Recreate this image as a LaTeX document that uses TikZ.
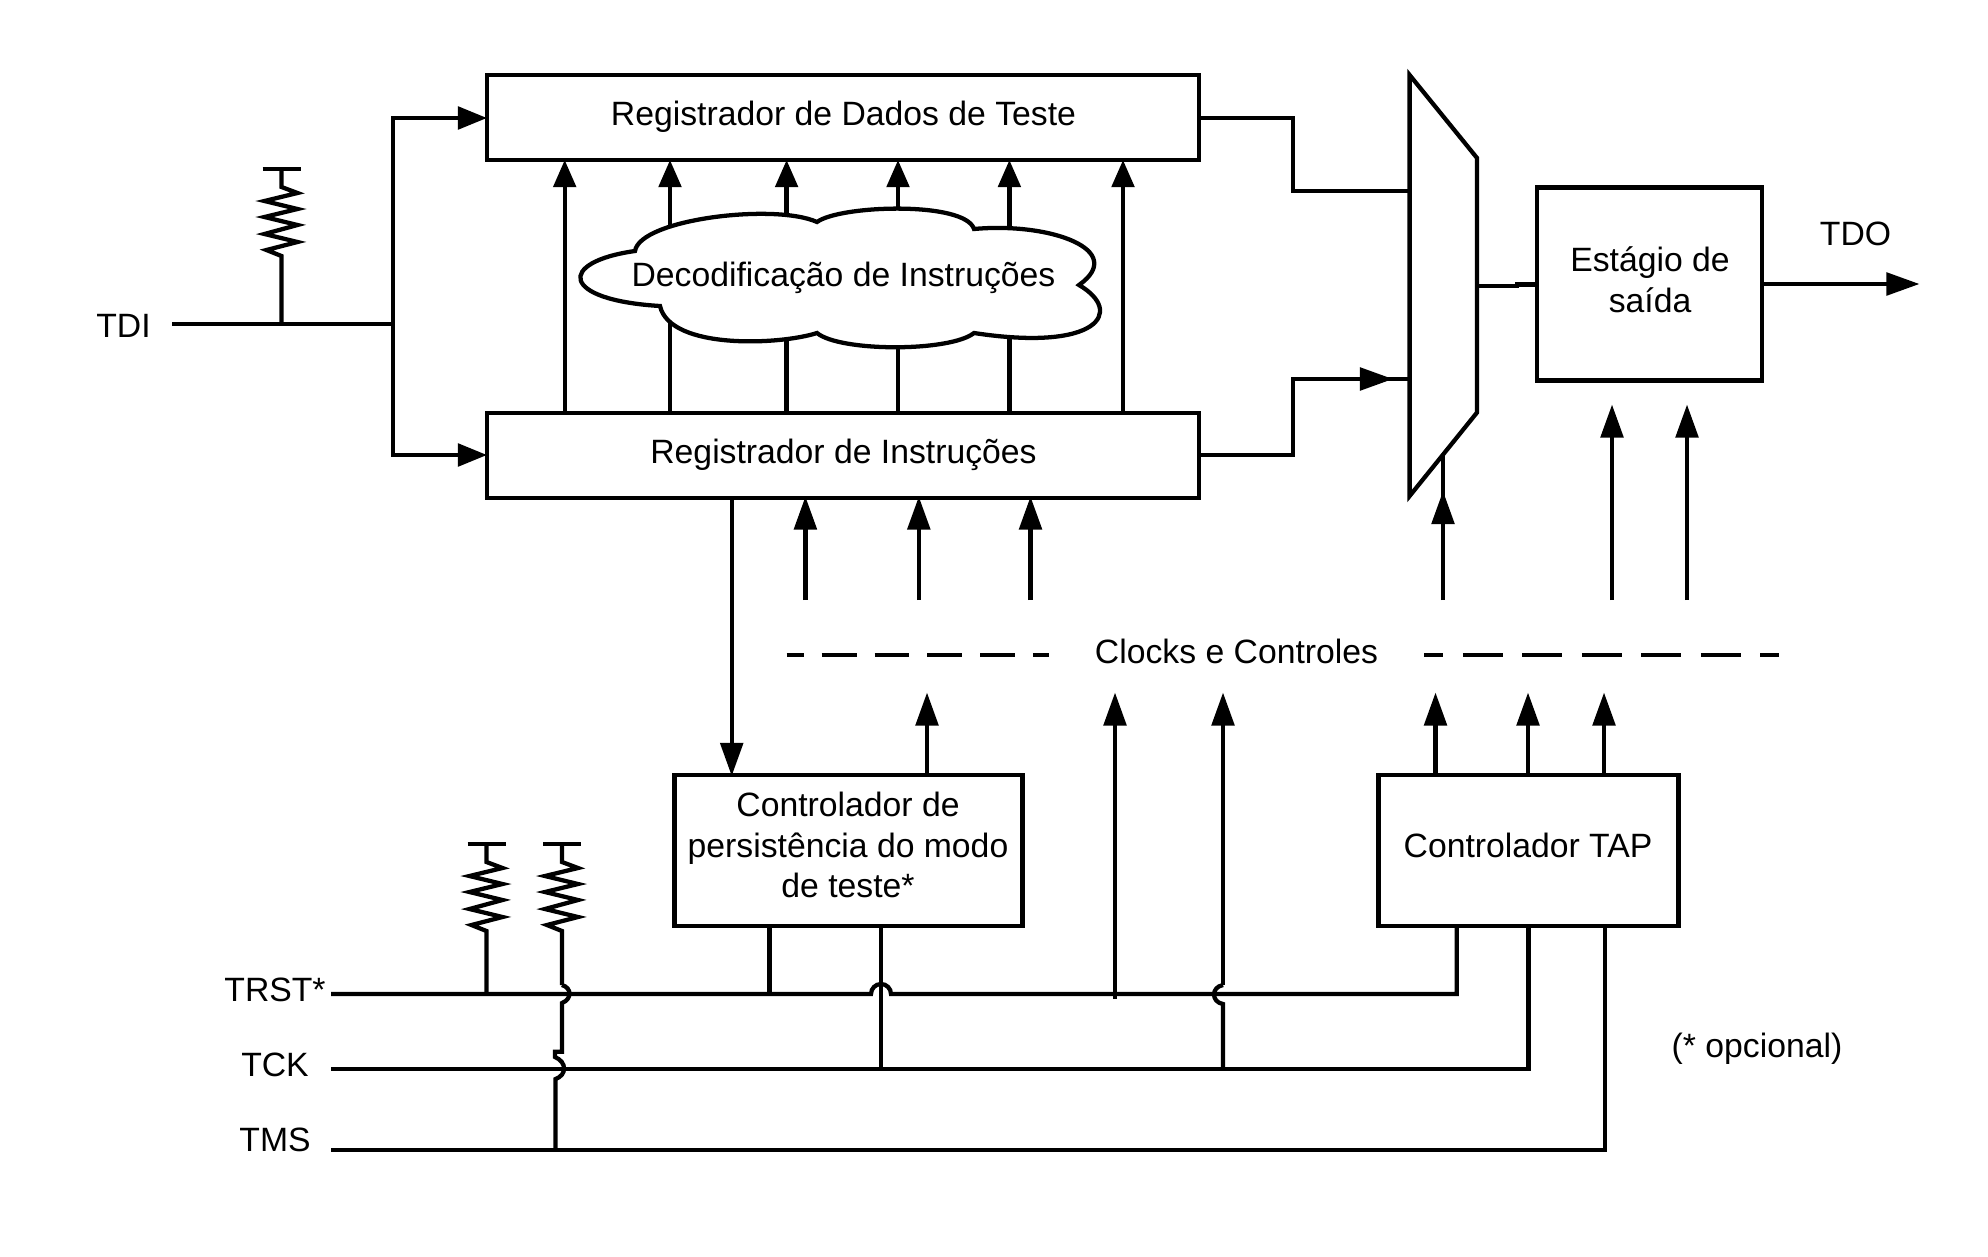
\documentclass[tikz,border=0pt]{standalone}
\usepackage{fontspec}
\setmainfont{Liberation Sans}
\usetikzlibrary{arrows.meta}
\tikzset{
  wire/.style={line width=1.6pt,line cap=butt,line join=miter},
  box/.style={draw,line width=1.6pt,fill=white,inner sep=0pt,outer sep=0pt,minimum width=0pt,align=center,font=\lab},
  lbl/.style={inner sep=0pt,align=center,font=\lab},
  up/.style={-{Triangle[length=10.2pt,width=8.4pt]}},
  side/.style={-{Triangle[length=10.9pt,width=8.4pt]}},
  lowup/.style={-{Triangle[length=12.4pt,width=8.4pt]}}
}
\newcommand{\lab}{\fontsize{12.65pt}{15.2pt}\selectfont}
\newcommand{\resistor}[3]{%
  \begin{scope}[shift={(#1,#2)}]
    \draw[wire] (-19,0) -- (19,0);
    \draw[wire] (0,0) -- (0,18) -- (16,24) -- (-17,32) -- (16,40) -- (-17,48) -- (16,56) -- (-17,65) -- (16,73) -- (-15,81) -- (0,87) -- (0,#3);
  \end{scope}}
\begin{document}
\begin{tikzpicture}[x=0.375pt,y=-0.375pt]
\useasboundingbox (0,0) rectangle (1988,1256);
% Boxes
\node[box,minimum width=267pt,minimum height=32pt,anchor=north west] (dr) at (487,75) {};
\node[box,minimum width=267pt,minimum height=32pt,anchor=north west] (ir) at (487,412.7) {};
\node[lbl] (drt) at (843.5,117) {Registrador de Dados de Teste};
\node[lbl] (irt) at (843.5,454.5) {Registrador de Instruções};
% Decode arrows
\foreach \i/\x in {a/564.7,b/670,c/786.6,d/898,e/1009.4,f/1123}{
  \coordinate (s\i) at (\x,412.7);
  \coordinate (t\i) at (\x,160);
  \draw[wire,up] (s\i) -- (t\i);
}
% Cloud
\draw[line width=1.6pt,fill=white] (635,251)
  .. controls (640,219) and (775,203) .. (817,222)
  .. controls (840,205) and (965,201) .. (974,229)
  .. controls (1050,222) and (1128,250) .. (1079,285)
  .. controls (1125,312) and (1098,352) .. (974,333)
  .. controls (950,352) and (840,352) .. (817,333)
  .. controls (780,345) and (670,350) .. (660,306)
  .. controls (560,300) and (557,262) .. (635,251) -- cycle;
\node[lbl] (cloud) at (843.5,277.5) {Decodificação de Instruções};
% Mux
\draw[line width=1.6pt,line join=miter,fill=white] (1409.6,75) -- (1477,158) -- (1477,412.5) -- (1409.6,496) -- cycle;
\coordinate (muxa) at (1409.6,191);
\coordinate (muxb) at (1409.6,379);
% Output stage
\node[box,minimum width=84.4pt,minimum height=72.4pt,anchor=north west] (out) at (1537,187.5) {};
\node[lbl] (outt) at (1650,279.5) {Estágio de\\saída};
% Mux inputs
\draw[wire] (1199,118) -- (1293,118) -- (1293,191) -- (muxa);
\draw[wire] (1199,455) -- (1293,455) -- (1293,379) -- (muxb);
\draw[wire,lowup] (1340,379) -- (1393,379);
\draw[wire] (1477,286) -- (1517,286) -- (1517,284.5) -- (1537,284.5);
\coordinate (tdoend) at (1919.5,284);
\draw[wire,lowup] (1762.5,284) -- (tdoend);
\node[lbl] (tdo) at (1855.5,234) {TDO};
% TDI
\node[lbl] (tdi) at (123.5,326) {TDI};
\coordinate (tdil) at (172,324.3);
\coordinate (busT) at (393.3,118);
\coordinate (busB) at (393.3,455);
\draw[wire] (tdil) -- (393.3,324.3);
\draw[wire,side] (393.3,324.3) -- (busT) -- (487,118);
\draw[wire,side] (393.3,324.3) -- (busB) -- (487,455);
\resistor{281.5}{169}{155}
% IR to persistence
\node[box,minimum width=130.5pt,minimum height=56.5pt,anchor=north west] (tpc) at (674.5,775) {};
\node[lbl] (tpct) at (848,845) {Controlador de\\persistência do modo\\de teste*};
\draw[wire,lowup] (731.7,498) -- (731.7,776);
% Under IR arrows
\foreach \i/\x in {a/805.4,b/918.8,c/1030.5}{
  \coordinate (ua\i) at (\x,600);
  \coordinate (ub\i) at (\x,496.5);
  \draw[wire,lowup] (ua\i) -- (ub\i);
}
\draw[wire] (1443,600) -- (1443,453.6);
\draw[wire,lowup] (1443,540) -- (1443,491);
\draw[wire,lowup] (1612,600) -- (1612,404.5);
\draw[wire,lowup] (1687,600) -- (1687,404.5);
% Dashes
\node[lbl] (clk) at (1236.5,651) {Clocks e Controles};
\draw[wire,dash pattern=on 13.1pt off 6.7pt,dash phase=6.6pt] (786.5,655) -- (1048.6,655);
\draw[wire,dash pattern=on 14.9pt off 7.4pt,dash phase=7.7pt] (1424,654.7) -- (1778.5,654.7);
% TAP
\node[box,minimum width=112.5pt,minimum height=56.5pt,anchor=north west] (tap) at (1378.6,775) {};
\node[lbl] (tapt) at (1528,845) {Controlador TAP};
\draw[wire,lowup] (1435.5,775) -- (1435.5,692.5);
\draw[wire,lowup] (1528,775) -- (1528,692.5);
\draw[wire,lowup] (1604,775) -- (1604,692.5);
\draw[wire,lowup] (927,775) -- (927,692.5);
% Bus labels
\node[lbl] (trst) at (275,990) {TRST*};
\node[lbl] (tck) at (275,1065) {TCK};
\node[lbl] (tms) at (275,1140) {TMS};
\node[lbl] (opc) at (1757,1049) {(* opcional)};
% TRST
\draw[wire] (331,994) -- (871,994) arc[start angle=180,end angle=0,x radius=10,y radius=-10] -- (1456.7,994) -- (1456.7,925);
\draw[wire] (769.4,925) -- (769.4,994);
% TCK
\draw[wire] (331,1069) -- (1528.6,1069) -- (1528.6,925);
\draw[wire] (881,925) -- (881,1069);
% TMS
\draw[wire] (331,1150) -- (1605,1150) -- (1605,925);
% Clock arrows
\draw[wire,lowup] (1115,999) -- (1115,692.5);
\draw[wire,lowup] (1223,985) -- (1223,692.5);
\draw[wire] (1223,985) .. controls (1211,987) and (1211,1002) .. (1223,1004) -- (1223,1069);
% Resistors
\resistor{486.5}{844}{150}
\resistor{562}{844}{141}
\draw[wire] (562,985) .. controls (572,988) and (572,999) .. (562,1003) -- (562,1051.7) -- (555,1051.7) -- (555,1057) .. controls (567,1062) and (567,1075) .. (555.5,1079) -- (555.5,1150);
\end{tikzpicture}
\end{document}
